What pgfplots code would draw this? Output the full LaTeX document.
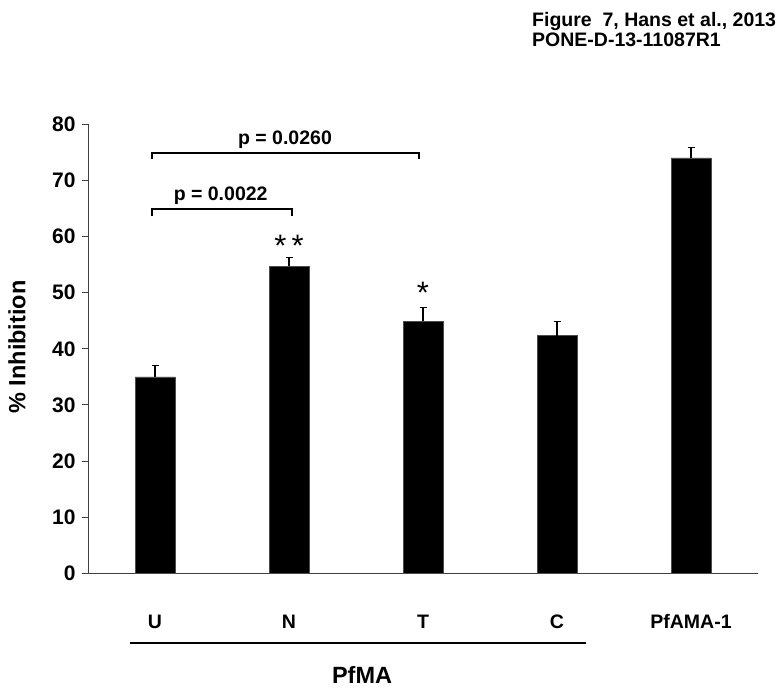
\documentclass[border=0pt]{standalone}
\usepackage{fontspec}
\setmainfont{Liberation Sans}
\usepackage{pgfplots}
\usepackage{pgfplotstable}
\pgfplotsset{compat=1.18}

% mean and upper error (SEM) for each antigen
\pgfplotstableread{
x  y     err
0  35.0  2.05
1  54.7  1.5
2  44.95 2.4
3  42.35 2.45
4  74.0  1.8
}\inhib

\begin{document}
\begin{tikzpicture}[x=1bp,y=1bp]
\path[use as bounding box] (0,0) rectangle (782,691);

% header
\node[anchor=base west,inner sep=0pt,font=\fontsize{19.5bp}{21bp}\selectfont\bfseries] at (532,664.7) {Figure\ \ 7, Hans et al., 2013};
\node[anchor=base west,inner sep=0pt,font=\fontsize{19.5bp}{21bp}\selectfont\bfseries] at (532,644) {PONE-D-13-11087R1};

% y label
\node[rotate=90,font=\fontsize{23.5bp}{25bp}\selectfont\bfseries] at (17,344) {\% Inhibition};

\begin{axis}[
  at={(88bp,117.7bp)}, anchor=south west,
  scale only axis, width=670bp, height=449bp,
  xmin=-0.5, xmax=4.5, ymin=0, ymax=80,
  axis x line=bottom, axis y line=left,
  axis line style={-, draw=black!75, line width=0.9bp},
  xtick=data, xticklabels={U,N,T,C,PfAMA-1},
  xtick style={draw=none},
  ytick={0,10,...,80},
  yticklabels={0,10,20,30,40,50,60,70,80},
  tick align=outside, major tick length=6bp,
  ytick style={draw=black!75, line width=0.9bp},
  xticklabel style={font=\fontsize{19.5bp}{21bp}\selectfont\bfseries, anchor=base, yshift=-49bp},
  yticklabel style={font=\fontsize{21bp}{22bp}\selectfont\bfseries, xshift=-3bp},
  clip=false,
]
\addplot[ybar, bar width=40bp, fill=black, draw=black!70,
  error bars/.cd, y dir=plus, y explicit,
  error mark=-, error mark options={rotate=90, black, line width=1.2bp, mark size=3.5bp},
  error bar style={black, line width=1.2bp}]
  table[x=x, y=y, y error=err] {\inhib};

% significance brackets
\draw[line width=2.5bp] (axis cs:-0.022,63.6) -- (axis cs:-0.022,64.9) -- (axis cs:1.022,64.9) -- (axis cs:1.022,63.6);
\node[anchor=base,font=\fontsize{19.5bp}{20bp}\selectfont\bfseries] at (axis cs:0.49,66.5) {p = 0.0022};
\draw[line width=2.5bp] (axis cs:-0.022,73.8) -- (axis cs:-0.022,74.85) -- (axis cs:1.97,74.85) -- (axis cs:1.97,73.8);
\node[anchor=base,font=\fontsize{19.5bp}{20bp}\selectfont\bfseries] at (axis cs:0.97,76.4) {p = 0.0260};

% stars
\node[font=\fontsize{31bp}{31bp}\selectfont] at (axis cs:1,58.3) {*\,*};
\node[font=\fontsize{31bp}{31bp}\selectfont] at (axis cs:2,50) {*};

% PfMA group
\draw[line width=2.5bp] (axis cs:-0.19,-12.45) -- (axis cs:3.216,-12.45);
\node[font=\fontsize{23.5bp}{25bp}\selectfont\bfseries] at (axis cs:1.545,-18.15) {PfMA};
\end{axis}
\end{tikzpicture}
\end{document}
